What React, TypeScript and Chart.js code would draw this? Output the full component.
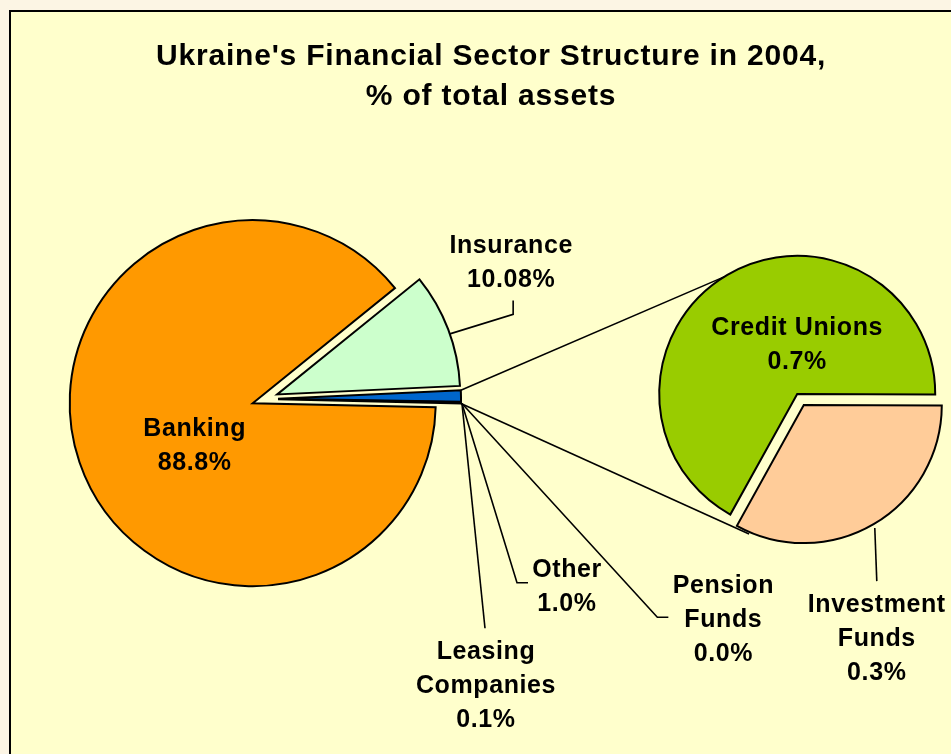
import React, { useEffect, useRef } from 'react';
import { Chart, registerables } from 'chart.js';

Chart.register(...registerables);

// ---- data ----
const titleLines = ["Ukraine's Financial Sector Structure in 2004,", '% of total assets'];

const mainLabels = ['Banking', 'Insurance', 'Other', 'Leasing Companies'];
const mainLabelLines = [['Banking'], ['Insurance'], ['Other'], ['Leasing', 'Companies']];
const mainValues = [88.8, 10.08, 1.0, 0.1];
const mainDecimals = [1, 2, 1, 1];
const mainColors = ['#FF9900', '#CCFFCC', '#0066CC', '#993366'];

const subLabels = ['Credit Unions', 'Investment Funds', 'Pension Funds'];
const subLabelLines = [['Credit Unions'], ['Investment', 'Funds'], ['Pension', 'Funds']];
const subValues = [0.67, 0.33, 0.0];
const subDecimals = [1, 1, 1];
const subColors = ['#99CC00', '#FFCC99', '#CC99FF'];

// ---- style ----
const FONT = '"Liberation Sans", Arial, Helvetica, sans-serif';
const LINE = 34;
// label anchor (centre x, first baseline) relative to the exploded arc apex
const mainLabelOffsets = [
  [-58, 33],
  [234, -141],
  [289, 178],
  [208, 260],
];
const subLabelOffsets = [
  [0, -59],
  [73, 207],
  [-74, 188],
];

const deg = (d: number) => (d * Math.PI) / 180;

function explode(dist: number) {
  return {
    id: 'explode',
    afterDatasetsUpdate(chart: any) {
      chart.getDatasetMeta(0).data.forEach((arc: any) => {
        const mid = (arc.startAngle + arc.endAngle) / 2;
        arc.x += Math.cos(mid) * dist;
        arc.y += Math.sin(mid) * dist;
      });
    },
  };
}

function edge(arc: any, ang: number, extra = 0) {
  const r = arc.outerRadius + extra;
  return [arc.x + Math.cos(ang) * r, arc.y + Math.sin(ang) * r];
}

function decor(sub: Chart) {
  return {
    id: 'decor',
    afterDraw(chart: any) {
      const ctx: CanvasRenderingContext2D = chart.ctx;
      const m = chart.getDatasetMeta(0).data as any[];
      const s = sub.getDatasetMeta(0).data as any[];
      ctx.save();
      ctx.fillStyle = '#000';
      ctx.strokeStyle = '#000';
      ctx.lineWidth = 1.6;
      ctx.lineJoin = 'miter';

      const line = (pts: number[][]) => {
        ctx.beginPath();
        ctx.moveTo(pts[0][0], pts[0][1]);
        for (let i = 1; i < pts.length; i++) ctx.lineTo(pts[i][0], pts[i][1]);
        ctx.stroke();
      };

      // title
      ctx.font = `bold 30px ${FONT}`;
      (ctx as any).letterSpacing = '0.8px';
      ctx.textAlign = 'center';
      ctx.textBaseline = 'alphabetic';
      titleLines.forEach((t, i) => ctx.fillText(t, 491, 65 + i * 40));

      // label anchors
      const mPos = m.map((a, i) => [a.x + mainLabelOffsets[i][0], a.y + mainLabelOffsets[i][1]]);
      const sPos = s.map((a, i) => [a.x + subLabelOffsets[i][0], a.y + subLabelOffsets[i][1]]);

      // connectors between the pies
      const other = m[2];
      const leasing = m[3];
      line([edge(other, other.startAngle), edge(s[0], deg(238))]);
      line([edge(leasing, leasing.endAngle), edge(s[1], deg(113), 2)]);

      // leader lines
      const ins = m[1];
      const insStart = edge(ins, (ins.startAngle + ins.endAngle) / 2 + deg(1.5));
      line([insStart, [mPos[1][0] + 2, mPos[1][1] + 61], [mPos[1][0] + 2, mPos[1][1] + 47]]);
      const hub = edge(leasing, leasing.endAngle, 1);
      line([hub, [mPos[2][0] - 50, mPos[2][1] + 6], [mPos[2][0] - 39, mPos[2][1] + 6]]);
      line([hub, [mPos[3][0] - 1, mPos[3][1] - 31]]);
      line([hub, [sPos[2][0] - 66, sPos[2][1] + 24], [sPos[2][0] - 55, sPos[2][1] + 24]]);
      line([edge(s[1], deg(60), 4), [sPos[1][0], sPos[1][1] - 31]]);

      // labels
      ctx.font = `bold 25px ${FONT}`;
      (ctx as any).letterSpacing = '0.6px';
      const drawBlock = (lines: string[], val: number, dec: number, p: number[]) => {
        const all = [...lines, `${val.toFixed(dec)}%`];
        all.forEach((t, i) => ctx.fillText(t, p[0], p[1] + i * LINE));
      };
      mainLabelLines.forEach((l, i) => drawBlock(l, mainValues[i], mainDecimals[i], mPos[i]));
      subLabelLines.forEach((l, i) => drawBlock(l, subValues[i], subDecimals[i], sPos[i]));
      ctx.restore();
    },
  };
}

export default function App() {
  const mainRef = useRef<HTMLCanvasElement>(null);
  const subRef = useRef<HTMLCanvasElement>(null);

  useEffect(() => {
    const common = {
      responsive: false,
      animation: false as const,
      events: [] as any[],
      plugins: {
        legend: { display: false },
        tooltip: { enabled: false },
        title: { display: false },
      },
    };
    const sub = new Chart(subRef.current!, {
      type: 'pie',
      data: {
        labels: subLabels,
        datasets: [
          {
            data: subValues,
            backgroundColor: subColors,
            borderColor: '#000',
            borderWidth: 2,
            borderJoinStyle: 'miter',
            rotation: 209,
            radius: 138,
          } as any,
        ],
      },
      options: {
        ...common,
        rotation: 209,
        radius: 138,
        layout: { padding: { left: 650, right: 0, top: 45, bottom: 0 } },
      } as any,
      plugins: [explode(6.5)],
    });
    const main = new Chart(mainRef.current!, {
      type: 'pie',
      data: {
        labels: mainLabels,
        datasets: [
          {
            data: mainValues,
            backgroundColor: mainColors,
            borderColor: '#000',
            borderWidth: 2,
            borderJoinStyle: 'miter',
            rotation: 91.3,
            radius: 183,
          } as any,
        ],
      },
      options: {
        ...common,
        rotation: 91.3,
        radius: 183,
        layout: { padding: { left: 0, right: 421, top: 44, bottom: 0 } },
      } as any,
      plugins: [explode(13), decor(sub)],
    });
    return () => {
      main.destroy();
      sub.destroy();
    };
  }, []);

  const cv: React.CSSProperties = { position: 'absolute', left: 0, top: 0, width: 951, height: 754 };
  return (
    <div
      style={{
        position: 'fixed',
        left: 0,
        top: 0,
        width: '100vw',
        height: '100vh',
        overflow: 'hidden',
        background: '#FCF5E4',
      }}
    >
      <div
        style={{
          position: 'absolute',
          left: 9,
          top: 10,
          width: 1100,
          height: 900,
          border: '2px solid #000',
          background: '#FFFFCC',
        }}
      />
      <canvas ref={subRef} width={951} height={754} style={cv} />
      <canvas ref={mainRef} width={951} height={754} style={cv} />
    </div>
  );
}
